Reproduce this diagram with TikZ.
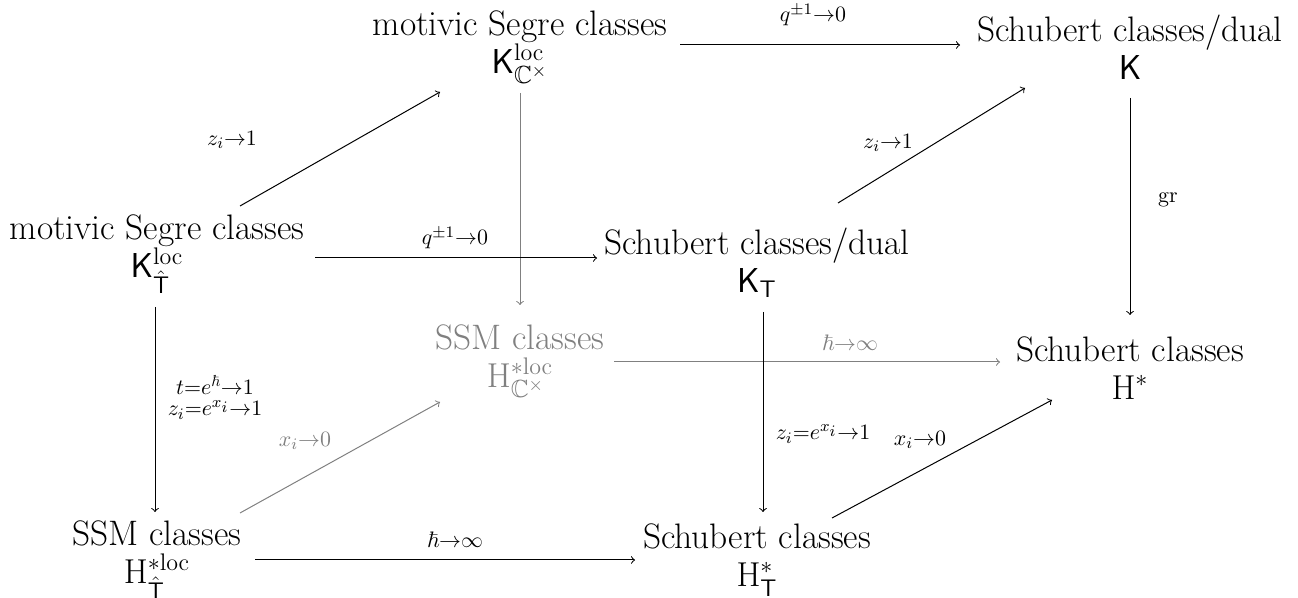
\documentclass[tikz,border=0pt]{standalone}
\usepackage{amssymb}
\begin{document}
\begin{tikzpicture}[x=0.5pt,y=-0.5pt,
  obj/.style={align=center, inner sep=0pt, font=\fontsize{17.7}{19}\selectfont},
  lbl/.style={inner sep=0pt, font=\fontsize{16}{19}\selectfont},
  arr/.style={->, line width=0.5pt},
  back/.style={draw=gray, text=gray}]
\useasboundingbox (0,0) rectangle (1298,598);
% objects
\node[obj] (A) at (520,47) {motivic Segre classes\\ $\mathsf{K}^{\mathrm{loc}}_{\mathbb{C}^{\times}}$};
\node[obj] (B) at (1130,47) {Schubert classes/dual\\ $\mathsf{K}$};
\node[obj] (C) at (157,254) {motivic Segre classes\\ $\mathsf{K}^{\mathrm{loc}}_{\hat{\mathsf{T}}}$};
\node[obj] (D) at (757,263) {Schubert classes/dual\\ $\mathsf{K}_{\mathsf{T}}$};
\node[obj, text=gray] (E) at (520,361) {SSM classes\\ $\mathrm{H}^{*\mathrm{loc}}_{\mathbb{C}^{\times}}$};
\node[obj] (F) at (1130,368) {Schubert classes\\ $\mathrm{H}^{*}$};
\node[obj] (G) at (157,560) {SSM classes\\ $\mathrm{H}^{*\mathrm{loc}}_{\hat{\mathsf{T}}}$};
\node[obj] (H) at (757,560) {Schubert classes\\ $\mathrm{H}^{*}_{\mathsf{T}}$};
% back (gray) arrows
\draw[arr, back] ([shift={(0,46)}]A.center) -- ([shift={(0,-56)}]E.center);
\draw[arr, back] ([shift={(94,1)}]E.center) -- ([shift={(-130,-6)}]F.center);
\draw[arr, back] ([shift={(83,-47)}]G.center) -- ([shift={(-80,41)}]E.center);
% front arrows
\draw[arr] ([shift={(83,-48)}]C.center) -- ([shift={(-80,45)}]A.center);
\draw[arr] ([shift={(160,-2)}]A.center) -- ([shift={(-170,-2)}]B.center);
\draw[arr] ([shift={(158,4)}]C.center) -- ([shift={(-160,-5)}]D.center);
\draw[arr] ([shift={(81,-60)}]D.center) -- ([shift={(-105,41)}]B.center);
\draw[arr] ([shift={(0,51)}]B.center) -- ([shift={(0,-53)}]F.center);
\draw[arr] ([shift={(-2,53)}]C.center) -- ([shift={(-2,-48)}]G.center);
\draw[arr] ([shift={(6,49)}]D.center) -- ([shift={(6,-48)}]H.center);
\draw[arr] ([shift={(98,0)}]G.center) -- ([shift={(-122,0)}]H.center);
\draw[arr] ([shift={(75,-42)}]H.center) -- ([shift={(-78,32)}]F.center);
% labels
\node[lbl] (lCA) at (232,140) {$\scriptstyle z_i\to1$};
\node[lbl] (lAB) at (813,15) {$\scriptstyle q^{\pm1}\to0$};
\node[lbl] (lCD) at (455,238) {$\scriptstyle q^{\pm1}\to0$};
\node[lbl] (lDB) at (888,143) {$\scriptstyle z_i\to1$};
\node[lbl] (lBF) at (1168,200) {$\scriptstyle\mathrm{gr}$};
\node[lbl] (lCG1) at (215,385) {$\scriptstyle t=e^{\hbar}\to1$};
\node[lbl] (lCG2) at (215,410) {$\scriptstyle z_i=e^{x_i}\to1$};
\node[lbl, text=gray] (lEF) at (850,343) {$\scriptstyle\hbar\to\infty$};
\node[lbl] (lDH) at (823,434) {$\scriptstyle z_i=e^{x_i}\to1$};
\node[lbl, text=gray] (lGE) at (305,441) {$\scriptstyle x_i\to0$};
\node[lbl] (lHF) at (920,440) {$\scriptstyle x_i\to0$};
\node[lbl] (lGH) at (455,540) {$\scriptstyle\hbar\to\infty$};
\end{tikzpicture}
\end{document}
